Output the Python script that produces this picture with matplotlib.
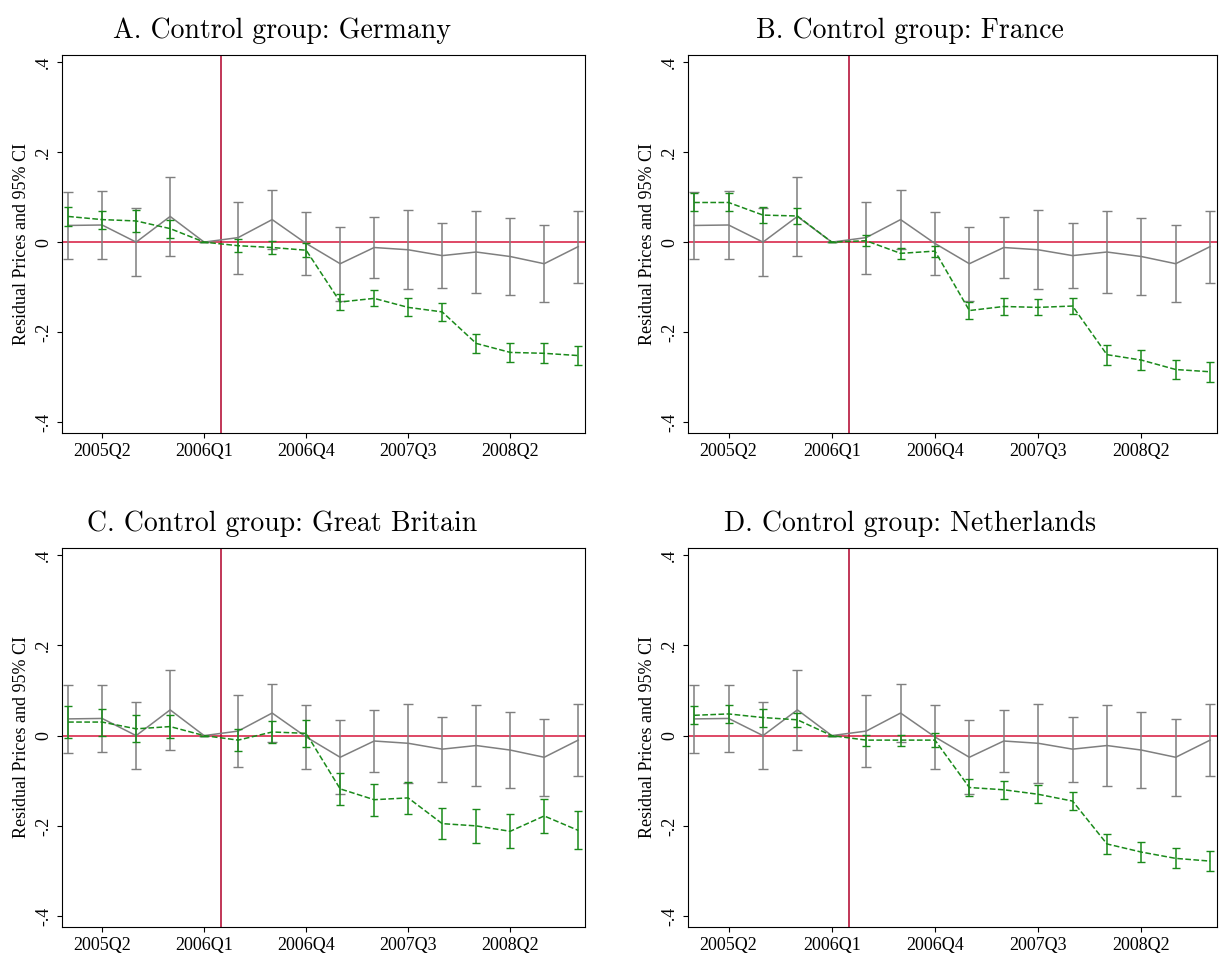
import matplotlib
matplotlib.use("Agg")
import matplotlib.pyplot as plt
import numpy as np

quarters = ["2005Q1","2005Q2","2005Q3","2005Q4","2006Q1","2006Q2","2006Q3","2006Q4",
            "2007Q1","2007Q2","2007Q3","2007Q4","2008Q1","2008Q2","2008Q3","2008Q4"]
tick_labels = ["2005Q2","2006Q1","2006Q4","2007Q3","2008Q2"]

gray_vals = [0.037,0.038,0.0,0.057,0.0,0.01,0.05,-0.003,-0.048,-0.012,-0.017,-0.03,-0.022,-0.032,-0.048,-0.01]
gray_err = [0.075,0.075,0.075,0.088,0.0,0.08,0.065,0.07,0.082,0.068,0.088,0.072,0.09,0.085,0.085,0.08]

green_A = [0.057,0.05,0.047,0.03,0.0,-0.008,-0.012,-0.018,-0.133,-0.125,-0.145,-0.155,-0.225,-0.245,-0.247,-0.252]
green_B = [0.088,0.088,0.06,0.058,0.0,0.003,-0.025,-0.02,-0.152,-0.143,-0.145,-0.142,-0.25,-0.262,-0.283,-0.288]
green_C = [0.03,0.03,0.015,0.02,0.0,-0.01,0.008,0.005,-0.118,-0.142,-0.138,-0.195,-0.2,-0.212,-0.178,-0.21]
green_D = [0.045,0.048,0.04,0.035,0.0,-0.01,-0.01,-0.01,-0.115,-0.12,-0.13,-0.145,-0.24,-0.258,-0.272,-0.278]
err_A = [0.022,0.02,0.025,0.02,0.0,0.015,0.015,0.015,0.018,0.018,0.02,0.02,0.022,0.022,0.022,0.022]
err_B = [0.02,0.02,0.018,0.018,0.0,0.012,0.012,0.012,0.018,0.018,0.018,0.018,0.022,0.022,0.022,0.022]
err_C = [0.035,0.03,0.03,0.025,0.0,0.025,0.025,0.03,0.035,0.035,0.035,0.035,0.038,0.038,0.038,0.042]
err_D = [0.02,0.02,0.02,0.015,0.0,0.012,0.012,0.015,0.018,0.02,0.02,0.02,0.022,0.022,0.022,0.022]

titles = ["A. Control group: Germany","B. Control group: France",
          "C. Control group: Great Britain","D. Control group: Netherlands"]
greens = [green_A, green_B, green_C, green_D]
errs = [err_A, err_B, err_C, err_D]

plt.rcParams['font.family'] = ['Liberation Serif', 'DejaVu Serif']

fig = plt.figure(figsize=(12.25, 9.58), dpi=100)
boxes = [(62,55,585,433),(688,55,1217,433),(62,548,585,927),(688,548,1217,927)]
x = np.arange(len(quarters))
for (l,t,r,b), title, g, e in zip(boxes, titles, greens, errs):
    ax = fig.add_axes([l/1225, 1-b/958, (r-l)/1225, (b-t)/958])
    ax.axhline(0, color='#d6163c', lw=1.1, zorder=1)
    ax.axvline(4.5, color='#b0002a', lw=1.1, zorder=1)
    ax.errorbar(x, gray_vals, yerr=gray_err, color='#7f7f7f', lw=1.1, capsize=3.5, elinewidth=1.1, zorder=2)
    ax.errorbar(x, g, yerr=e, color='#1a8a1a', lw=1.1, ls='--', capsize=3, elinewidth=1.1, zorder=3)
    ax.set_xlim(-0.18, 15.2)
    ax.set_ylim(-0.424, 0.4156)
    ax.set_xticks([quarters.index(q) for q in tick_labels])
    ax.set_xticklabels(tick_labels, fontsize=13)
    ax.set_yticks([-0.4,-0.2,0,0.2,0.4])
    ax.set_yticklabels(["-.4","-.2","0",".2",".4"], rotation=90, va='center', fontsize=13)
    ax.set_ylabel("Residual Prices and 95% CI", fontsize=13)
    ax.set_title(title, fontsize=20, pad=12, family=['cmr10', 'DejaVu Serif'], x=0.42)
    for s in ax.spines.values():
        s.set_linewidth(0.8)
fig.savefig("out.png", dpi=100)
